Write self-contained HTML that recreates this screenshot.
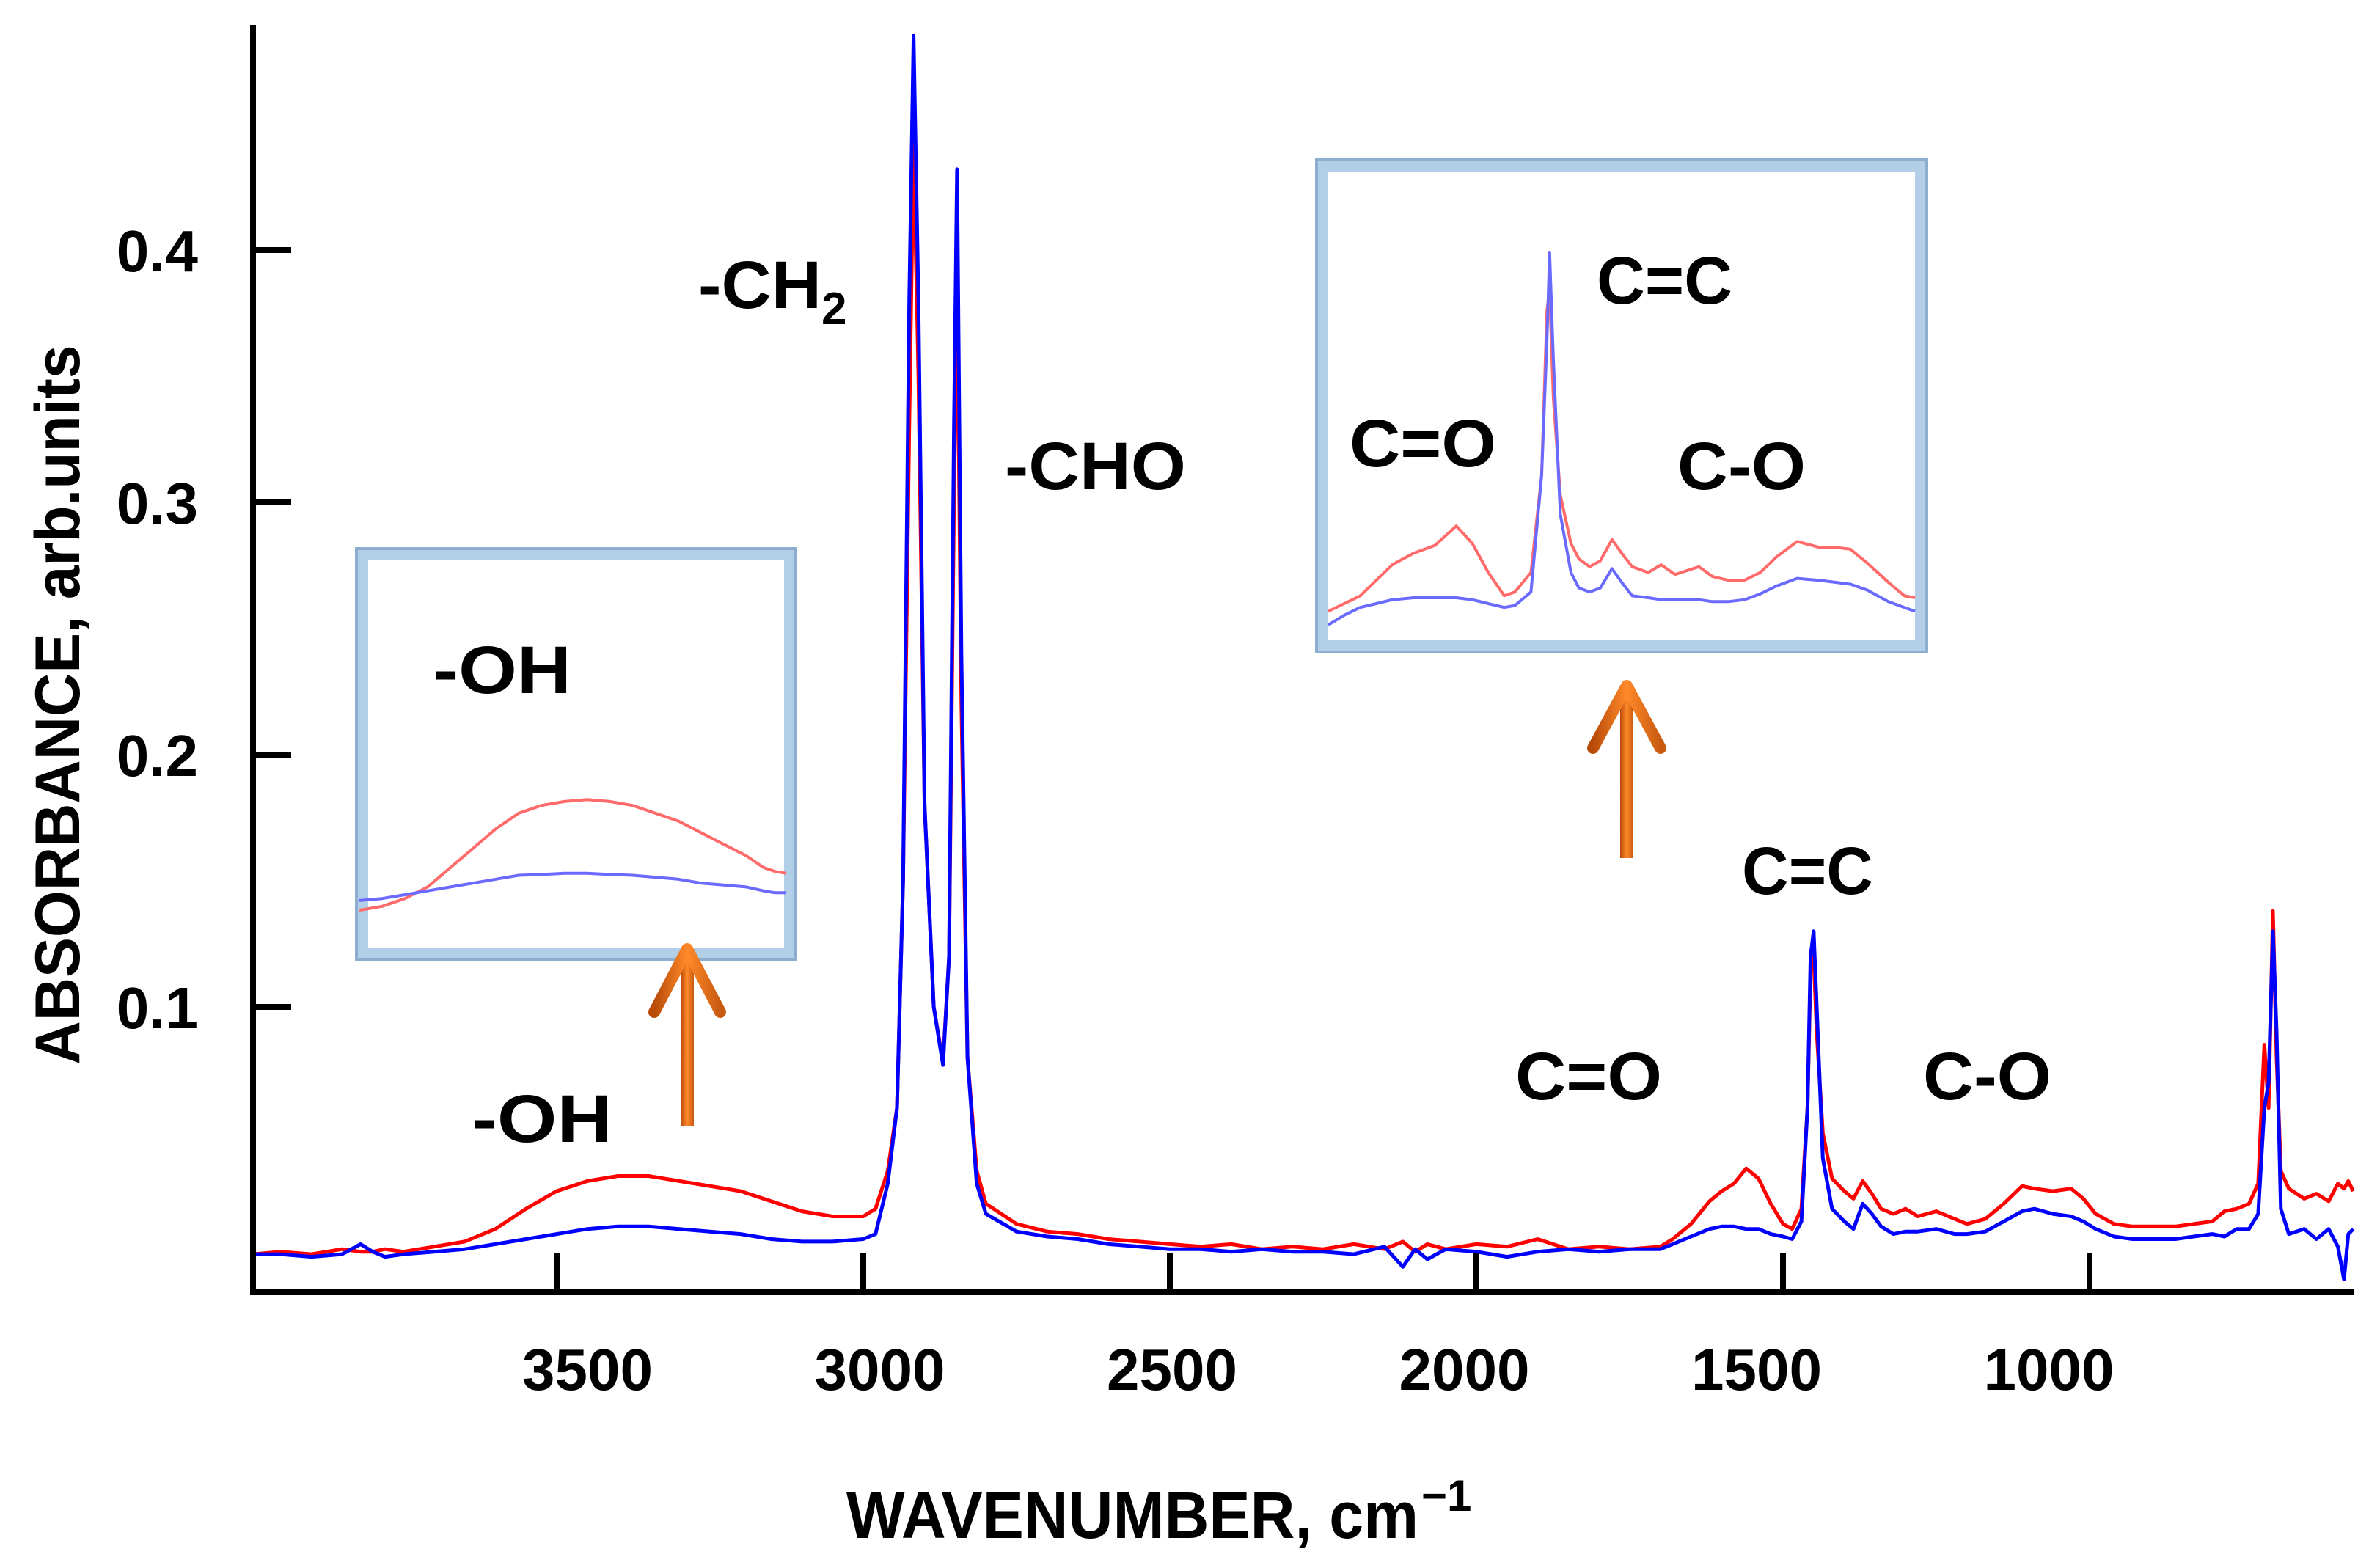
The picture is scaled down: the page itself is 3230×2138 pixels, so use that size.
<!DOCTYPE html>
<html><head><meta charset="utf-8"><style>
html,body{margin:0;padding:0;background:#fff;}
svg{display:block;}
text{font-family:"Liberation Sans","DejaVu Sans",sans-serif;font-weight:bold;fill:#000;}
</style></head><body>
<svg id="chart" width="3230" height="2138" viewBox="0 0 3230 2138" xmlns="http://www.w3.org/2000/svg">
<defs>
<linearGradient id="arrowGrad" x1="0" x2="1" y1="0" y2="0">
<stop offset="0" stop-color="#b84a08"/><stop offset="0.5" stop-color="#ff8a2a"/><stop offset="1" stop-color="#c85a10"/>
</linearGradient>
</defs>
<g id="main-series"></g>
<g id="axes"></g>

<g>
<rect x="486" y="748" width="599" height="560" fill="#fff" stroke="#8eaed0" stroke-width="4"/>
<rect x="495" y="757" width="581" height="542" fill="none" stroke="#b3cfe8" stroke-width="14"/>
<g id="inset-oh-series"></g>
<text x="591" y="945" font-size="92" textLength="188" lengthAdjust="spacingAndGlyphs">-OH</text>
</g>

<g>
<rect x="1795" y="218" width="832" height="671" fill="#fff" stroke="#8eaed0" stroke-width="4"/>
<rect x="1804" y="227" width="814" height="653" fill="none" stroke="#b3cfe8" stroke-width="14"/>
<g id="inset-cc-series"></g>
<text x="2177" y="414" font-size="92" textLength="185" lengthAdjust="spacingAndGlyphs">C=C</text>
<text x="1840" y="636" font-size="92" textLength="200" lengthAdjust="spacingAndGlyphs">C=O</text>
<text x="2287" y="667" font-size="92" textLength="175" lengthAdjust="spacingAndGlyphs">C-O</text>
</g>

<g>
<rect x="928" y="1300" width="18" height="235" fill="url(#arrowGrad)"/>
<polyline points="892,1380 937,1294 982,1380" fill="none" stroke="url(#arrowGrad)" stroke-width="16" stroke-linecap="round" stroke-linejoin="round"/>
</g>
<g>
<rect x="2209" y="940" width="18" height="230" fill="url(#arrowGrad)"/>
<polyline points="2172,1020 2218,935 2264,1020" fill="none" stroke="url(#arrowGrad)" stroke-width="16" stroke-linecap="round" stroke-linejoin="round"/>
</g>

<text x="952" y="420" font-size="92"><tspan textLength="168" lengthAdjust="spacingAndGlyphs">-CH</tspan><tspan font-size="62" dy="22">2</tspan></text>
<text x="1370" y="667" font-size="92" textLength="247" lengthAdjust="spacingAndGlyphs">-CHO</text>
<text x="643" y="1557" font-size="92" textLength="192" lengthAdjust="spacingAndGlyphs">-OH</text>
<text x="2375" y="1219" font-size="92" textLength="179" lengthAdjust="spacingAndGlyphs">C=C</text>
<text x="2066" y="1499" font-size="92" textLength="200" lengthAdjust="spacingAndGlyphs">C=O</text>
<text x="2622" y="1499" font-size="92" textLength="175" lengthAdjust="spacingAndGlyphs">C-O</text>

<text x="0" y="0" font-size="86" transform="translate(108,961) rotate(-90)" text-anchor="middle" textLength="981" lengthAdjust="spacingAndGlyphs">ABSORBANCE, arb.units</text>
<text x="1154" y="2097" font-size="90" textLength="780" lengthAdjust="spacingAndGlyphs">WAVENUMBER, cm</text>
<text x="1938" y="2060" font-size="60">−1</text>
</svg>
<script>
// main spectrum data
const wavenumbers = [3995,3950,3900,3850,3820,3800,3780,3750,3700,3650,3600,3550,3500,3450,3400,3350,3300,3250,3200,3150,3100,3050,3000,2980,2960,2945,2935,2925,2918,2910,2900,2885,2870,2860,2852,2847,2840,2830,2815,2800,2750,2700,2650,2600,2550,2500,2450,2400,2350,2300,2250,2200,2150,2120,2100,2080,2050,2000,1950,1900,1850,1800,1750,1700,1680,1650,1620,1600,1580,1560,1540,1520,1500,1485,1470,1460,1455,1450,1445,1435,1420,1400,1385,1370,1355,1340,1320,1300,1280,1250,1220,1200,1170,1140,1110,1090,1060,1030,1010,990,960,930,900,860,830,800,780,760,740,725,715,708,701,695,688,675,650,630,610,595,585,578,570];
const redSeries = [.002,.003,.002,.004,.003,.003,.004,.003,.005,.007,.012,.020,.027,.031,.033,.033,.031,.029,.027,.023,.019,.017,.017,.020,.035,.06,.15,.33,.442,.35,.18,.10,.078,.12,.30,.39,.22,.08,.035,.022,.014,.011,.010,.008,.007,.006,.005,.006,.004,.005,.004,.006,.004,.007,.003,.006,.004,.006,.005,.008,.004,.005,.004,.005,.008,.014,.023,.027,.030,.036,.032,.022,.014,.012,.020,.06,.115,.12,.09,.05,.032,.027,.024,.031,.026,.020,.018,.020,.017,.019,.016,.014,.016,.022,.029,.028,.027,.028,.024,.018,.014,.013,.013,.013,.014,.015,.019,.020,.022,.030,.085,.06,.138,.08,.035,.028,.024,.026,.023,.030,.028,.031,.027];
const blueSeries = [.002,.002,.001,.002,.006,.003,.001,.002,.003,.004,.006,.008,.010,.012,.013,.013,.012,.011,.010,.008,.007,.007,.008,.010,.030,.06,.15,.38,.485,.38,.18,.10,.077,.12,.33,.432,.24,.08,.03,.018,.011,.009,.008,.006,.005,.004,.004,.003,.004,.003,.003,.002,.005,-.003,.004,.000,.004,.003,.001,.003,.004,.003,.004,.004,.006,.009,.012,.013,.013,.012,.012,.010,.009,.008,.015,.06,.12,.130,.10,.04,.020,.015,.012,.022,.018,.013,.010,.011,.011,.012,.010,.010,.011,.015,.019,.020,.018,.017,.015,.012,.009,.008,.008,.008,.009,.010,.009,.012,.012,.018,.06,.07,.130,.09,.02,.010,.012,.008,.012,.005,-.008,.010,.012];
const xTicks = [3500,3000,2500,2000,1500,1000];
const xTickLabels = ["3500","3000","2500","2000","1500","1000"];
const yTicks = [0.1,0.2,0.3,0.4];
const yTickLabels = ["0.1","0.2","0.3","0.4"];
// inset: OH region
const ohW = [3900,3860,3820,3780,3740,3700,3660,3620,3580,3540,3500,3460,3420,3380,3340,3300,3260,3220,3190,3170,3150];
const ohRed = [.003,.004,.006,.009,.014,.019,.024,.028,.030,.031,.0315,.031,.030,.028,.026,.023,.020,.017,.014,.013,.0125];
const ohBlue = [.0055,.006,.007,.008,.009,.010,.011,.012,.0122,.0125,.0125,.0122,.012,.0115,.011,.010,.0095,.009,.008,.0075,.0075];
// inset: C=O / C=C / C-O region
const ccW = [1800,1770,1740,1710,1680,1640,1600,1560,1530,1500,1470,1450,1420,1400,1390,1385,1378,1365,1345,1330,1310,1290,1268,1250,1230,1200,1176,1150,1105,1080,1050,1020,990,960,921,880,850,821,790,750,720,700];
const ccRed = [.010,.014,.018,.026,.034,.040,.044,.054,.045,.030,.018,.020,.030,.080,.165,.1755,.12,.07,.045,.037,.033,.036,.047,.040,.033,.030,.034,.029,.033,.028,.026,.026,.030,.038,.046,.043,.043,.042,.035,.025,.018,.017];
const ccBlue = [.003,.008,.012,.014,.016,.017,.017,.017,.016,.014,.012,.013,.020,.080,.150,.195,.14,.06,.030,.022,.020,.022,.032,.025,.018,.017,.016,.016,.016,.015,.015,.016,.019,.023,.027,.026,.025,.024,.021,.015,.012,.010];

const NS = "http://www.w3.org/2000/svg";
const X = w => 759 + (3500 - w) * 0.836;
const LX = w => 801 + (3500 - w) * 0.797;
const Y = v => 1717 - 3440 * v;
const main = document.getElementById('main-series');
const axes = document.getElementById('axes');

function poly(parent, ws, vs, fx, fy, color, width, name) {
  const p = document.createElementNS(NS, 'polyline');
  p.setAttribute('points', ws.map((w, i) => fx(w).toFixed(1) + ',' + fy(vs[i]).toFixed(1)).join(' '));
  p.setAttribute('fill', 'none');
  p.setAttribute('stroke', color);
  p.setAttribute('stroke-width', width);
  p.setAttribute('stroke-linejoin', 'round');
  
  
  parent.appendChild(p);
}
poly(main, wavenumbers, redSeries, X, Y, '#ff0000', 5, 'red-spectrum');
poly(main, wavenumbers, blueSeries, X, Y, '#0000ff', 5, 'blue-spectrum');

function line(x1, y1, x2, y2, w, name) {
  const l = document.createElementNS(NS, 'line');
  l.setAttribute('x1', x1); l.setAttribute('y1', y1); l.setAttribute('x2', x2); l.setAttribute('y2', y2);
  l.setAttribute('stroke', '#000'); l.setAttribute('stroke-width', w);
  
  
  axes.appendChild(l);
}
line(345, 34, 345, 1766, 8, 'y-axis-line');
line(341, 1762, 3209, 1762, 8, 'x-axis-line');
function txt(x, y, s, size, anchor, name) {
  const t = document.createElementNS(NS, 'text');
  t.setAttribute('x', x); t.setAttribute('y', y);
  t.setAttribute('font-size', size); t.setAttribute('text-anchor', anchor);
  t.textContent = s;
  
  
  axes.appendChild(t);
}
xTicks.forEach((w, i) => {
  line(X(w), 1709, X(w), 1762, 8, 'x-tick');
  txt(LX(w), 1895, xTickLabels[i], 80, 'middle', 'x-tick-label');
});
yTicks.forEach((v, i) => {
  line(345, Y(v), 397, Y(v), 8, 'y-tick');
  txt(270, Y(v) + 29, yTickLabels[i], 80, 'end', 'y-tick-label');
});

// insets
const ohG = document.getElementById('inset-oh-series');
const ohX = w => 490 + (3900 - w) / 750 * 582;
const ohY = v => 1257 - 5292 * v;
poly(ohG, ohW, ohRed, ohX, ohY, '#ff6a6a', 4, 'inset-oh-red');
poly(ohG, ohW, ohBlue, ohX, ohY, '#6a6aff', 4, 'inset-oh-blue');
const ccG = document.getElementById('inset-cc-series');
const ccX = w => 1811 + (1800 - w) / 1100 * 800;
const ccY = v => 860 - 2646 * v;
poly(ccG, ccW, ccRed, ccX, ccY, '#ff6a6a', 4, 'inset-cc-red');
poly(ccG, ccW, ccBlue, ccX, ccY, '#6a6aff', 4, 'inset-cc-blue');
</script>
</body></html>
